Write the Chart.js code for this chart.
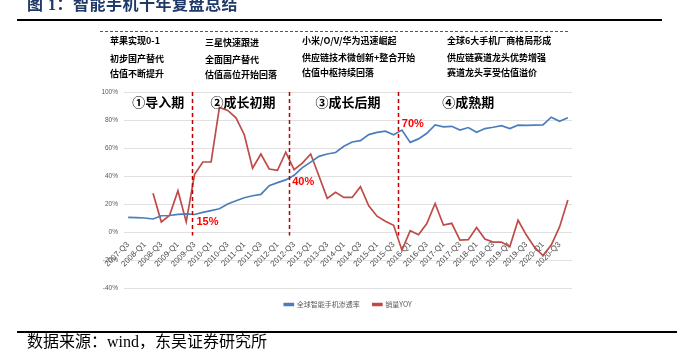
<!DOCTYPE html>
<html><head><meta charset="utf-8">
<script src="https://cdn.jsdelivr.net/npm/chart.js@4"></script>
<style>
html,body{margin:0;padding:0;background:#fff;}
#wrap{position:relative;width:685px;height:352px;overflow:hidden;background:#fff;}
canvas{position:absolute;left:0;top:0;}
.t{position:absolute;white-space:nowrap;font-family:"Noto Sans CJK SC",sans-serif;color:#000;}
.h{font-size:9px;font-weight:bold;line-height:12px;}
.rule{position:absolute;background:#000;}
</style></head><body>
<div id="wrap">
<canvas id="c" width="685" height="352"></canvas>
<div class="t" style="left:27px;top:-4px;font-size:16px;line-height:18px;font-weight:bold;color:#1f3a68;font-family:'Liberation Serif','Noto Sans CJK SC',serif;letter-spacing:0.5px;">图 1：智能手机十年复盘总结</div>
<div class="rule" style="left:17px;top:19px;width:645px;height:2px;"></div>
<div style="position:absolute;left:100px;top:31px;width:468px;height:0;border-top:1.5px dashed #d42020;"></div>

<div class="t h" style="left:110px;top:35px;">苹果实现0-1</div>
<div class="t h" style="left:110px;top:53px;">初步国产替代</div>
<div class="t h" style="left:110px;top:68px;">估值不断提升</div>

<div class="t h" style="left:205px;top:37px;">三星快速跟进</div>
<div class="t h" style="left:205px;top:54px;">全面国产替代</div>
<div class="t h" style="left:205px;top:69px;">估值高位开始回落</div>

<div class="t h" style="left:302px;top:35px;">小米/O/V/华为迅速崛起</div>
<div class="t h" style="left:302px;top:52px;">供应链技术微创新+整合开始</div>
<div class="t h" style="left:302px;top:67px;">估值中枢持续回落</div>

<div class="t h" style="left:447px;top:35px;">全球6大手机厂商格局形成</div>
<div class="t h" style="left:447px;top:52px;">供应链赛道龙头优势增强</div>
<div class="t h" style="left:447px;top:67px;">赛道龙头享受估值溢价</div>

<div class="rule" style="left:17px;top:331px;width:660px;height:2px;"></div>
<div class="t" style="left:27px;top:332px;font-size:16px;line-height:19px;font-family:'Liberation Serif','Noto Sans CJK SC',serif;">数据来源：wind，东吴证券研究所</div>
</div>
<script>
// ---- data ----
const quarters = ['2007-Q3','2007-Q4','2008-Q1','2008-Q2','2008-Q3','2008-Q4','2009-Q1','2009-Q2','2009-Q3','2009-Q4',
'2010-Q1','2010-Q2','2010-Q3','2010-Q4','2011-Q1','2011-Q2','2011-Q3','2011-Q4','2012-Q1','2012-Q2',
'2012-Q3','2012-Q4','2013-Q1','2013-Q2','2013-Q3','2013-Q4','2014-Q1','2014-Q2','2014-Q3','2014-Q4',
'2015-Q1','2015-Q2','2015-Q3','2015-Q4','2016-Q1','2016-Q2','2016-Q3','2016-Q4','2017-Q1','2017-Q2',
'2017-Q3','2017-Q4','2018-Q1','2018-Q2','2018-Q3','2018-Q4','2019-Q1','2019-Q2','2019-Q3','2019-Q4',
'2020-Q1','2020-Q2','2020-Q3','2020-Q4'];
const penetration = [10.5,10.3,10.0,9.3,11.6,11.8,12.6,13.0,12.5,14.0,
15.3,16.6,20.0,22.3,24.5,25.9,26.9,33.1,35.3,37.2,
40.5,46.0,49.9,54.0,55.7,56.8,61.2,64.3,65.3,69.6,
71.2,72.0,69.4,72.8,64.0,66.5,70.5,76.5,75.1,75.5,
72.8,74.6,71.2,73.9,74.8,76.0,73.9,76.3,76.1,76.3,
76.5,82.0,79.1,81.6];
const salesYoy = [null,null,null,27.6,7.2,12.0,29.5,7.2,41.0,50.0,
50.0,89.0,86.8,81.6,69.5,45.5,55.7,45.0,44.0,57.0,
44.5,49.2,55.7,40.0,24.0,28.3,24.7,24.7,32.4,18.7,
11.3,7.7,4.8,-13.0,0.9,-1.9,6.0,20.4,5.0,6.2,
-5.8,-5.5,3.2,-5.0,-7.2,-7.2,-10.5,8.4,-2.2,-11.0,
-16.8,-9.3,3.6,22.8];
const yTicks = [-40,-20,0,20,40,60,80,100];
const seriesNames = ['全球智能手机渗透率','销量YOY'];
const phaseNames = ['①导入期','②成长初期','③成长后期','④成熟期'];
const calloutTexts = ['15%','40%','70%'];

// ---- annotation placement (positions in category-index / value units) ----
const annotCfg = {
  dividers: [7.72, 19.42, 32.57],
  phases: [[3.64,92.5],[13.84,92.5],[26.5,92.5],[41.0,92.5]],
  callouts: [[8.23,7.2],[19.78,35.4],[32.98,77.0]]
};

const annot = {
  id:'annot',
  afterDatasetsDraw(chart){
    const {ctx, scales:{x,y}} = chart;
    ctx.save();
    ctx.strokeStyle='#c00000'; ctx.lineWidth=1.5; ctx.setLineDash([4,3]);
    annotCfg.dividers.forEach(v=>{
      const X = Math.round(x.getPixelForValue(v))+0.5;
      ctx.beginPath(); ctx.moveTo(X, y.getPixelForValue(100)); ctx.lineTo(X, y.getPixelForValue(-2.5)); ctx.stroke();
    });
    ctx.setLineDash([]);
    ctx.fillStyle='#000'; ctx.textAlign='center'; ctx.textBaseline='middle';
    ctx.font='bold 13px "Noto Sans CJK SC"';
    annotCfg.phases.forEach((p,i)=>{ ctx.fillText(phaseNames[i], x.getPixelForValue(p[0]), y.getPixelForValue(p[1])); });
    ctx.fillStyle='#ff0000'; ctx.textAlign='left';
    ctx.font='bold 11px "Liberation Sans"';
    annotCfg.callouts.forEach((p,i)=>{ ctx.fillText(calloutTexts[i], x.getPixelForValue(p[0]), y.getPixelForValue(p[1])); });
    ctx.restore();
  }
};

new Chart(document.getElementById('c'), {
  type:'line',
  data:{
    labels: quarters,
    datasets:[
      {label:seriesNames[0], data:penetration, borderColor:'#4a7ebb', backgroundColor:'#4a7ebb', borderWidth:1.7, pointRadius:0, tension:0},
      {label:seriesNames[1], data:salesYoy, borderColor:'#be4b48', backgroundColor:'#be4b48', borderWidth:1.7, pointRadius:0, tension:0}
    ]
  },
  options:{
    responsive:false, animation:false, devicePixelRatio:1,
    layout:{padding:{top:92, left:0, right:113, bottom:34}},
    plugins:{
      legend:{position:'bottom', fullSize:false, labels:{boxWidth:9, boxHeight:2, padding:13, color:'#595959', font:{size:7, family:'"Noto Sans CJK SC"'}}},
      tooltip:{enabled:false}
    },
    scales:{
      x:{
        type:'category', offset:true, position:{y:0},
        grid:{display:false, drawTicks:false}, border:{display:false},
        ticks:{autoSkip:false, minRotation:45, maxRotation:45, padding:8, color:'#4d4d4d',
          font:{size:8, family:'"Liberation Sans"'},
          callback:(v,i)=> i%2===0 ? quarters[i] : ''}
      },
      y:{
        min:-40, max:100,
        afterBuildTicks(s){ s.ticks = yTicks.map(v=>({value:v})); },
        afterFit(s){ s.width = 124; },
        ticks:{padding:6, color:'#595959', font:{size:6.5, family:'"Liberation Sans"'}, callback:v=>v+'%'},
        grid:{color:'#d9d9d9', lineWidth:0.8, drawTicks:false}, border:{display:false}
      }
    }
  },
  plugins:[annot]
});
</script>
</body></html>
